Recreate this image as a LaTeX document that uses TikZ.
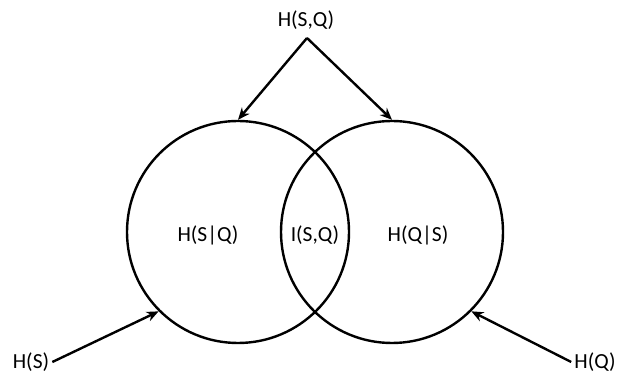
\documentclass[tikz,border=0pt]{standalone}
\usepackage{fontspec}
\setmainfont{Carlito}
\usetikzlibrary{arrows.meta, positioning}
\tikzstyle{entropy_set} = [circle, draw=black, line width=2.4pt, minimum size=222pt, inner sep=0pt]
\tikzstyle{entropy_label} = [text centered, inner sep=3pt, font=\fontsize{21.5}{25}\selectfont]
\tikzstyle{entropy_arrow} = [line width=2.4pt, black, ->, >={Stealth[length=12pt, width=10pt]}]

\begin{document}
\begin{tikzpicture}[x=1pt, y=1pt]

    \clip (0, 0) rectangle (617, 374);

    % the two sets
    \node (setS) [entropy_set] at (238, 142) {};
    \node (setQ) [entropy_set] at (392, 142) {};

    \node (hsgq) [entropy_label] at (208, 139) {H(S|Q)};
    \node (isq) [entropy_label] at (315, 139) {I(S,Q)};
    \node (hqgs) [entropy_label] at (418, 139) {H(Q|S)};

    % joint entropy on top
    \node (hsq) [entropy_label] at (306, 354) {H(S,Q)};
    \coordinate (apex) at (307, 336);

    \draw [entropy_arrow] (apex) -- (setS.north);
    \draw [entropy_arrow] (apex) -- (setQ.north);

    % marginal entropies
    \node (hs) [entropy_label] at (31, 12) {H(S)};
    \node (hq) [entropy_label] at (595, 12) {H(Q)};

    \draw [entropy_arrow] (hs.east) -- (setS.225);
    \draw [entropy_arrow] (hq.west) -- (setQ.-45);

\end{tikzpicture}
\end{document}
